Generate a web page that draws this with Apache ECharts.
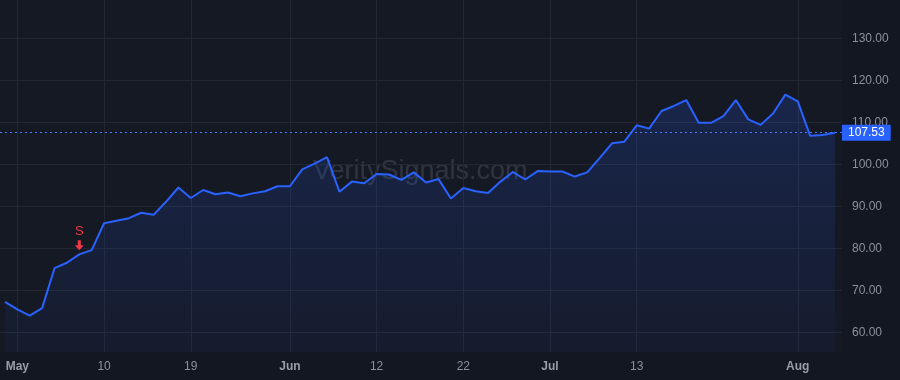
<!DOCTYPE html>
<html>
<head>
<meta charset="utf-8">
<script src="https://cdn.jsdelivr.net/npm/echarts@6/dist/echarts.min.js"></script>
<style>
  html, body { margin: 0; padding: 0; background: #131722; }
  #chart { width: 900px; height: 380px; }
</style>
</head>
<body>
<div id="chart"></div>
<script>
// trading days, Apr 28 - Aug 4 2023
const dates = [
  '2023-04-28',
  '2023-05-01', '2023-05-02', '2023-05-03', '2023-05-04', '2023-05-05', '2023-05-08', '2023-05-09',
  '2023-05-10', '2023-05-11', '2023-05-12', '2023-05-15', '2023-05-16', '2023-05-17', '2023-05-18',
  '2023-05-19', '2023-05-22', '2023-05-23', '2023-05-24', '2023-05-25', '2023-05-26', '2023-05-30',
  '2023-05-31', '2023-06-01', '2023-06-02', '2023-06-05', '2023-06-06', '2023-06-07', '2023-06-08',
  '2023-06-09', '2023-06-12', '2023-06-13', '2023-06-14', '2023-06-15', '2023-06-16', '2023-06-20',
  '2023-06-21', '2023-06-22', '2023-06-23', '2023-06-26', '2023-06-27', '2023-06-28', '2023-06-29',
  '2023-06-30', '2023-07-03', '2023-07-05', '2023-07-06', '2023-07-07', '2023-07-10', '2023-07-11',
  '2023-07-12', '2023-07-13', '2023-07-14', '2023-07-17', '2023-07-18', '2023-07-19', '2023-07-20',
  '2023-07-21', '2023-07-24', '2023-07-25', '2023-07-26', '2023-07-27', '2023-07-28', '2023-07-31',
  '2023-08-01', '2023-08-02', '2023-08-03', '2023-08-04'
]

const closes = [
  67.3, 65.5, 64.0, 65.8, 75.3, 76.6, 78.6, 79.6, 86.0, 86.6,
  87.2, 88.5, 88.0, 91.1, 94.5, 92.0, 93.9, 92.9, 93.3, 92.4,
  93.1, 93.6, 94.8, 94.8, 98.8, 100.2, 101.7, 93.5, 95.9, 95.5,
  97.7, 97.6, 96.3, 98.1, 95.7, 96.5, 91.9, 94.4, 93.6, 93.2,
  95.9, 98.2, 96.4, 98.4, 98.3, 98.3, 97.1, 98.1, 101.5, 105.0,
  105.4, 109.3, 108.5, 112.7, 113.9, 115.3, 109.9, 109.9, 111.5, 115.3,
  110.7, 109.4, 112.1, 116.6, 115.0, 106.8, 107.0, 107.53
]

const tickIdx = [1, 8, 15, 23, 30, 37, 44, 51, 64]
const tickLabels = ['May', '10', '19', 'Jun', '12', '22', 'Jul', '13', 'Aug']
const monthLabels = ['May', 'Jun', 'Jul', 'Aug']

const priceTicks = [60, 70, 80, 90, 100, 110, 120, 130]
const lastPrice = 107.53

const signalIdx = 6
const signalText = 'S'

const chart = echarts.init(document.getElementById('chart'), null, { renderer: 'canvas' })

const font = '"Liberation Sans", Arial, sans-serif'

chart.setOption({
  backgroundColor: '#131722',
  animation: false,
  textStyle: { fontFamily: font },
  graphic: [{
    type: 'text',
    left: 313,
    top: 158,
    z: 0,
    style: {
      text: 'VeritySignals.com',
      fill: 'rgba(170, 176, 192, 0.18)',
      font: '27px ' + font
    }
  }],
  grid: {
    left: 0,
    right: 58,
    top: 0,
    bottom: 28,
    show: true,
    backgroundColor: '#151924',
    borderWidth: 0
  },
  xAxis: {
    type: 'value',
    min: -0.4,
    max: 67.57,
    axisLine: { show: false },
    axisTick: { show: false, customValues: tickIdx },
    splitLine: { show: true, lineStyle: { color: '#232733', width: 1 } },
    axisLabel: {
      customValues: tickIdx,
      margin: 9,
      fontSize: 12,
      color: '#8c9099',
      formatter: (v) => {
        const t = tickLabels[tickIdx.indexOf(Math.round(v))]
        return monthLabels.includes(t) ? '{m|' + t + '}' : t
      },
      rich: {
        m: { fontWeight: 'bold', fontSize: 12, color: '#999da6' }
      }
    }
  },
  yAxis: {
    type: 'value',
    position: 'right',
    min: 55.36,
    max: 139.11,
    axisLine: { show: false },
    axisTick: { show: false, customValues: priceTicks },
    splitLine: { show: true, lineStyle: { color: '#232733', width: 1 } },
    axisLabel: {
      customValues: priceTicks,
      margin: 10,
      fontSize: 12,
      color: '#8c9099',
      formatter: (v) => v.toFixed(2)
    }
  },
  series: [{
    type: 'line',
    data: closes.map((c, i) => [i, c]),
    showSymbol: false,
    symbol: 'none',
    z: 3,
    lineStyle: { color: '#2962ff', width: 2 },
    areaStyle: {
      origin: 'start',
      color: new echarts.graphic.LinearGradient(0, 0, 0, 1, [
        { offset: 0, color: 'rgba(41, 98, 255, 0.26)' },
        { offset: 1, color: 'rgba(41, 98, 255, 0.06)' }
      ])
    },
    markLine: {
      silent: true,
      symbol: ['none', 'none'],
      lineStyle: { color: '#4a7bff', type: [2, 3], width: 1 },
      label: {
        show: true,
        position: 'end',
        distance: 0,
        formatter: () => lastPrice.toFixed(2),
        backgroundColor: '#2962ff',
        color: '#ffffff',
        fontSize: 12,
        padding: [2, 6, 2, 6]
      },
      data: [{ yAxis: lastPrice }]
    },
    markPoint: {
      silent: true,
      symbol: 'path://M3,0 L6,0 L6,5 L9,5 L4.5,10 L0,5 L3,5 Z',
      symbolSize: [9, 10],
      symbolOffset: [0, -9],
      itemStyle: { color: '#f23645' },
      label: {
        show: true,
        position: 'top',
        distance: 2,
        formatter: signalText,
        color: '#f23645',
        fontSize: 13
      },
      data: [{ coord: [signalIdx, closes[signalIdx]] }]
    }
  }]
})
</script>
</body>
</html>
